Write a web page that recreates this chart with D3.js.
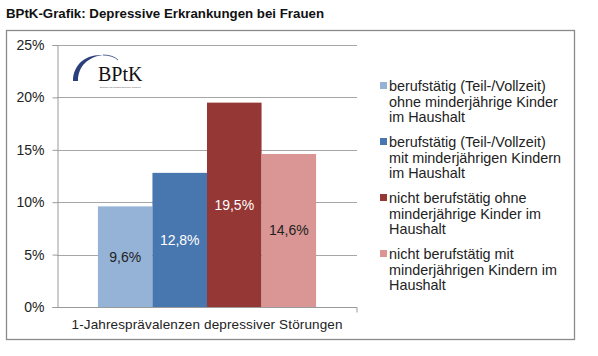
<!DOCTYPE html>
<html><head><meta charset="utf-8">
<script src="https://cdn.jsdelivr.net/npm/d3@7"></script>
<style>body{margin:0;background:#fff}svg{display:block}</style>
</head><body><svg id="c" width="598" height="356"></svg>
<script>
const title = "BPtK-Grafik: Depressive Erkrankungen bei Frauen";
const category = "1-Jahresprävalenzen depressiver Störungen";
const seriesNames = [
  ["berufstätig (Teil-/Vollzeit)", "ohne minderjährige Kinder", "im Haushalt"],
  ["berufstätig (Teil-/Vollzeit)", "mit minderjährigen Kindern", "im Haushalt"],
  ["nicht berufstätig ohne", "minderjährige Kinder im", "Haushalt"],
  ["nicht berufstätig mit", "minderjährigen Kindern im", "Haushalt"]
];
const values = [9.6, 12.8, 19.5, 14.6];
const valueLabels = ["9,6%", "12,8%", "19,5%", "14,6%"];
const colors = ["#95B3D7", "#4876AE", "#953735", "#D99694"];
const labelColors = ["#222", "#fff", "#fff", "#222"];
const yTicks = [0, 5, 10, 15, 20, 25];

const svg = d3.select("#c");
const font = "'Liberation Sans', Arial, sans-serif";

// title
svg.append("text").attr("x", 6).attr("y", 18).attr("font-family", font)
  .attr("font-weight", "bold").attr("font-size", 13).attr("fill", "#111")
  .attr("textLength", 318).attr("lengthAdjust", "spacingAndGlyphs").text(title);

// frame
svg.append("rect").attr("x", 6.5).attr("y", 30.5).attr("width", 568).attr("height", 309)
  .attr("fill", "#fff").attr("stroke", "#8a8a8a").attr("stroke-width", 1.3);

const x0 = d3.scaleBand().domain([category]).range([57, 357]);
const x1 = d3.scaleBand().domain(d3.range(values.length)).range([0, x0.bandwidth()]).paddingOuter(0.75).paddingInner(0);
const y = d3.scaleLinear().domain([0, 25]).range([307, 45]);

// gridlines
svg.append("g").selectAll("line").data(yTicks.filter(d => d > 0)).join("line")
  .attr("x1", 57).attr("x2", 357).attr("y1", d => Math.round(y(d)) + 0.5).attr("y2", d => Math.round(y(d)) + 0.5)
  .attr("stroke", "#a6a6a6").attr("stroke-width", 1);

// y axis
const yAxis = svg.append("g").attr("transform", "translate(57.5,0)")
  .call(d3.axisLeft(y).tickValues(yTicks).tickSize(5).tickPadding(8).tickFormat(d => d + "%"));
yAxis.selectAll("path,line").attr("stroke", "#9a9a9a");
yAxis.selectAll("text").attr("font-family", font).attr("font-size", 14).attr("fill", "#222");

// x axis
const xAxis = svg.append("g").attr("transform", "translate(0,307.5)")
  .call(d3.axisBottom(x0).tickSize(0).tickPadding(12));
xAxis.select("path").attr("stroke", "#9a9a9a").attr("d", "M57,0V0H357V5");
xAxis.selectAll("text").attr("font-family", font).attr("font-size", 13.5).attr("fill", "#222")
  .attr("textLength", 271).attr("lengthAdjust", "spacing");

// bars
const g = svg.append("g").attr("transform", `translate(${x0(category)},0)`);
g.selectAll("rect").data(values).join("rect")
  .attr("x", (d, i) => x1(i)).attr("width", x1.bandwidth())
  .attr("y", d => y(d)).attr("height", d => y(0) - y(d))
  .attr("fill", (d, i) => colors[i]);
g.selectAll("text.v").data(values).join("text").attr("class", "v")
  .attr("x", (d, i) => x1(i) + x1.bandwidth() / 2)
  .attr("y", d => (y(d) + y(0)) / 2 + 5)
  .attr("text-anchor", "middle").attr("font-family", font).attr("font-size", 14)
  .attr("fill", (d, i) => labelColors[i]).text((d, i) => valueLabels[i]);

// legend
const lg = svg.append("g");
seriesNames.forEach((lines, i) => {
  const top = 86 + i * 56;
  lg.append("rect").attr("x", 380).attr("y", top - 4).attr("width", 7).attr("height", 7).attr("fill", colors[i]);
  lines.forEach((t, j) => {
    lg.append("text").attr("x", 389).attr("y", top + 5 + j * 15.7)
      .attr("font-family", font).attr("font-size", 14.4).attr("fill", "#222").text(t);
  });
});

// logo
const logo = svg.append("g");
logo.append("path").attr("d", "M73,81 C73,66 84,54 103,55 C88,57 78,66 78,81 Z").attr("fill", "#2b3f7a");
logo.append("path").attr("d", "M103,55 C110,55 115,57 118,60").attr("fill", "none").attr("stroke", "#2b3f7a").attr("stroke-width", 0.8);
logo.append("text").attr("x", 98).attr("y", 81).attr("font-family", "'Liberation Serif', 'DejaVu Serif', serif")
  .attr("font-size", 20).attr("fill", "#111").text("BPtK");
logo.append("text").attr("x", 100).attr("y", 88).attr("font-family", font)
  .attr("font-size", 2.5).attr("fill", "#555").text("Bundes Psychotherapeuten Kammer");
</script></body></html>
